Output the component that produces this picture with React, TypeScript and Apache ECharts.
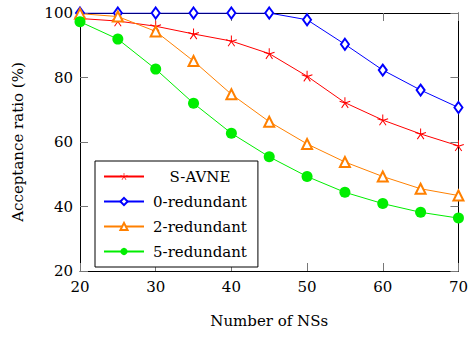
import React, { useEffect, useRef } from "react";
import * as echarts from "echarts";

const xCategories = [20, 25, 30, 35, 40, 45, 50, 55, 60, 65, 70];
const sAvne = [98.3, 97.5, 95.9, 93.5, 91.3, 87.4, 80.4, 72.2, 66.8, 62.5, 58.8];
const red0 = [100, 100, 100, 100, 100, 100, 97.9, 90.3, 82.3, 76.1, 70.7];
const red2 = [99.8, 98.9, 94.3, 85.1, 74.8, 66.3, 59.4, 53.8, 49.3, 45.5, 43.4];
const red5 = [97.3, 91.9, 82.6, 72.0, 62.7, 55.4, 49.3, 44.4, 40.9, 38.2, 36.4];
const seriesNames = ["S-AVNE", "0-redundant", "2-redundant", "5-redundant"];

function starPath(): string {
  const w = 0.09;
  let d = "";
  for (let i = 0; i < 5; i++) {
    const a = -Math.PI / 2 + (i * 2 * Math.PI) / 5;
    const cx = Math.cos(a), cy = Math.sin(a);
    const px = -Math.sin(a) * w, py = Math.cos(a) * w;
    const pts = [
      [px, py],
      [cx + px, cy + py],
      [cx - px, cy - py],
      [-px, -py],
    ];
    d += "M" + pts.map((p) => (p[0] + 1).toFixed(3) + " " + (p[1] + 1).toFixed(3)).join(" L") + " Z ";
  }
  return "path://" + d;
}

const FONT = "'DejaVu Serif', 'Liberation Serif', serif";
const FS = 15;

export default function App() {
  const ref = useRef<HTMLDivElement>(null);
  useEffect(() => {
    const chart = echarts.init(ref.current!, null, { renderer: "svg" });
    const pairs = (vals: number[]) => xCategories.map((x, i) => [x, vals[i]]);
    const tickStyle = { show: true, inside: true, length: 8, lineStyle: { color: "#777", width: 1 } };
    const lineAxis = { show: true, lineStyle: { color: "#000", width: 1 } };
    chart.setOption({
      animation: false,
      textStyle: { fontFamily: FONT },
      grid: { left: 80, right: 11, top: 13, bottom: 67 },
      xAxis: [
        {
          type: "value", min: 20, max: 70, interval: 10,
          name: "Number of NSs", nameLocation: "middle", nameGap: 42,
          nameTextStyle: { fontFamily: FONT, fontSize: FS, color: "#000" },
          axisLine: lineAxis, axisTick: tickStyle, splitLine: { show: false },
          axisLabel: { fontFamily: FONT, fontSize: FS, color: "#000", margin: 8 },
        },
        {
          type: "value", min: 20, max: 70, interval: 10, position: "top",
          axisLine: lineAxis, axisTick: tickStyle, splitLine: { show: false },
          axisLabel: { show: false },
        },
      ],
      yAxis: [
        {
          type: "value", min: 20, max: 100, interval: 20,
          name: "Acceptance ratio (%)", nameLocation: "middle", nameGap: 55,
          nameTextStyle: { fontFamily: FONT, fontSize: FS, color: "#000" },
          axisLine: lineAxis, axisTick: tickStyle, splitLine: { show: false },
          axisLabel: { fontFamily: FONT, fontSize: FS, color: "#000", margin: 7 },
        },
        {
          type: "value", min: 20, max: 100, interval: 20, position: "right",
          axisLine: lineAxis, axisTick: tickStyle, splitLine: { show: false },
          axisLabel: { show: false },
        },
      ],
      legend: {
        orient: "vertical",
        left: 95, top: 161,
        data: seriesNames,
        backgroundColor: "#fff",
        borderColor: "#000", borderWidth: 1, borderRadius: 0,
        padding: [8, 11, 8, 8],
        itemWidth: 40, itemHeight: 9, itemGap: 10,
        formatter: (name: string) => `{a|${name}}`,
        textStyle: {
          fontFamily: FONT, fontSize: FS, color: "#000",
          rich: { a: { width: 102, align: "center", fontFamily: FONT, fontSize: FS, color: "#000" } },
        },
      },
      series: [
        {
          name: seriesNames[0], type: "line", data: pairs(sAvne),
          symbol: starPath(), symbolSize: 11,
          lineStyle: { color: "#ff0000", width: 1 },
          itemStyle: { color: "#ff0000" },
        },
        {
          name: seriesNames[1], type: "line", data: pairs(red0),
          symbol: "emptyDiamond", symbolSize: [8, 11],
          lineStyle: { color: "#0000ff", width: 1 },
          itemStyle: { color: "#0000ff", borderWidth: 1.2 },
        },
        {
          name: seriesNames[2], type: "line", data: pairs(red2),
          symbol: "emptyTriangle", symbolSize: 10,
          lineStyle: { color: "#ff8000", width: 1 },
          itemStyle: { color: "#ff8000", borderWidth: 1.2 },
        },
        {
          name: seriesNames[3], type: "line", data: pairs(red5),
          symbol: "circle", symbolSize: 11,
          lineStyle: { color: "#00ee00", width: 1 },
          itemStyle: { color: "#00ee00" },
        },
      ],
    });
    return () => chart.dispose();
  }, []);
  return <div ref={ref} style={{ width: 471, height: 338, position: "absolute", left: 0, top: 0 }} />;
}
